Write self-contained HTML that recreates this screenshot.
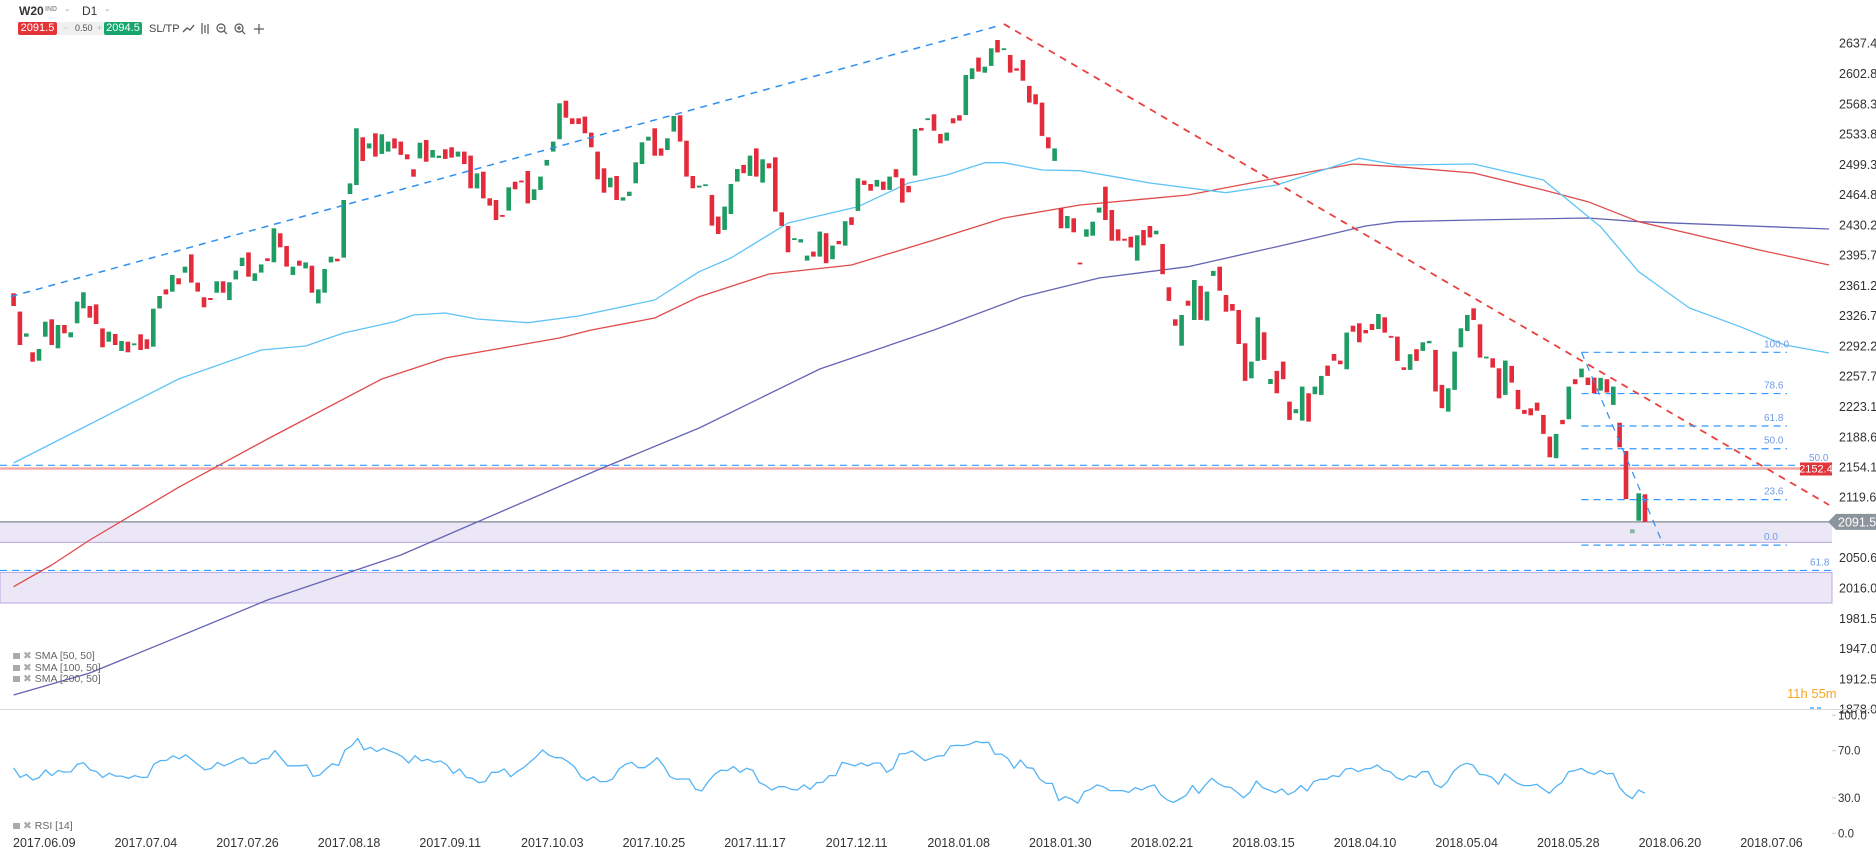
<!DOCTYPE html>
<html><head><meta charset="utf-8"><style>
html,body{margin:0;padding:0;background:#fff;}
body{width:1876px;height:853px;overflow:hidden;font-family:"Liberation Sans",sans-serif;position:relative;}
svg text{font-family:"Liberation Sans",sans-serif;}
</style></head><body>
<svg id="chart" width="1876" height="853" xmlns="http://www.w3.org/2000/svg">
<g id="bg"></g>
<g id="marks"></g>
<g id="overlay"></g>
</svg>
<script>
// ---- data ----
const opens = [2352.2,2331.3,2302.7,2284.9,2275.4,2302.7,2322.5,2289.4,2316.0,2302.0,2317.9,2335.0,2337.7,2339.6,2312.2,2297.0,2305.8,2286.4,2297.0,2293.2,2305.4,2299.7,2291.3,2335.0,2356.7,2354.1,2369.3,2375.8,2396.6,2364.4,2347.6,2346.8,2352.9,2365.9,2344.5,2368.1,2383.3,2398.9,2366.3,2375.8,2392.1,2387.5,2420.6,2406.1,2373.1,2389.4,2380.7,2383.7,2340.7,2352.9,2387.5,2391.7,2392.8,2465.5,2475.7,2530.1,2517.5,2534.7,2511.1,2513.8,2528.9,2525.2,2510.7,2493.6,2506.1,2527.0,2506.9,2506.5,2516.4,2518.7,2508.1,2513.8,2509.2,2471.9,2490.9,2460.5,2458.6,2441.5,2446.5,2479.5,2480.7,2491.7,2458.6,
2470.1,2497.8,2513.8,2527.9,2571.9,2551.8,2551.8,2553.7,2535.5,2513.8,2494.8,2473.1,2486.0,2457.9,2463.2,2477.6,2499.7,2526.3,2540.4,2517.5,2515.6,2536.6,2555.2,2526.3,2486.0,2472.7,2475.0,2464.4,2439.7,2424.5,2442.7,2479.6,2498.6,2486.0,2517.5,2478.4,2500.5,2507.3,2444.6,2429.1,2413.9,2410.1,2389.5,2399.8,2394.1,2420.7,2391.1,2411.9,2406.6,2438.9,2446.2,2480.7,2476.9,2473.9,2479.6,2470.1,2493.7,2483.4,2474.7,2486.4,2540.8,2549.9,2556.4,2533.9,2526.3,2551.8,2555.2,2555.6,2596.6,2621.0,2603.9,2611.5,2641.1,2630.8,2624.0,2608.8,2618.3,2588.7,2579.2,2569.7,2530.1,2503.2,2449.2,2426.4,2437.8,
2387.2,2416.8,2417.9,2444.2,2473.8,2447.2,2425.2,2414.5,2416.8,2389.4,2424.4,2429.0,2419.5,2408.4,2359.0,2322.6,2292.5,2343.8,2321.8,2360.6,2321.0,2372.0,2382.6,2350.3,2340.0,2333.2,2295.2,2255.3,2275.1,2307.7,2248.8,2263.7,2274.3,2228.7,2215.4,2207.0,2238.2,2237.1,2236.3,2269.7,2283.0,2275.4,2265.6,2315.3,2318.0,2310.4,2317.2,2311.5,2324.8,2303.6,2302.8,2267.8,2264.8,2288.4,2286.5,2295.2,2287.6,2247.7,2217.3,2242.0,2290.6,2309.3,2335.1,2316.9,2278.1,2278.1,2266.7,2236.3,2269.4,2242.0,2219.2,2221.1,2227.6,2213.5,2188.8,2164.1,2207.8,2208.6,2254.2,2256.4,2256.1,2256.1,2241.2,2254.2,2224.9,2204.6,2172.3,2083.0,2092.9,2123.0];
const closes = [2337.7,2293.2,2306.5,2274.2,2288.7,2319.8,2293.2,2316.0,2306.5,2307.7,2342.7,2353.3,2324.4,2317.2,2290.6,2308.4,2293.2,2297.8,2284.9,2295.1,2287.5,2288.7,2334.6,2349.1,2351.0,2373.1,2362.5,2382.6,2364.4,2354.1,2336.2,2344.5,2365.9,2352.9,2364.8,2378.1,2392.8,2371.2,2375.0,2385.2,2389.0,2426.3,2404.6,2382.6,2382.6,2383.7,2387.5,2352.9,2356.7,2379.9,2394.0,2388.7,2458.6,2477.6,2540.4,2503.1,2523.2,2508.1,2533.5,2525.2,2517.5,2510.0,2505.0,2485.2,2524.0,2502.3,2515.6,2509.2,2505.4,2506.9,2513.8,2499.7,2471.9,2489.0,2460.5,2452.2,2435.8,2439.6,2473.1,2470.8,2479.5,2454.8,2470.8,
2485.3,2504.3,2525.2,2568.9,2552.5,2545.3,2545.3,2534.7,2518.7,2482.2,2467.0,2484.1,2458.6,2461.7,2468.1,2501.6,2524.4,2530.8,2509.2,2509.2,2529.0,2554.4,2525.2,2485.3,2472.0,2475.0,2476.5,2429.4,2419.9,2451.1,2476.9,2494.0,2489.1,2509.2,2485.3,2505.0,2494.8,2445.4,2429.1,2399.0,2415.0,2413.9,2395.2,2394.1,2422.6,2386.5,2406.6,2408.2,2434.4,2430.2,2483.4,2475.8,2469.3,2481.5,2470.1,2485.3,2484.5,2455.7,2467.4,2539.6,2537.7,2551.8,2537.7,2523.3,2535.5,2546.1,2549.1,2601.2,2608.8,2605.0,2610.7,2631.6,2627.0,2631.6,2603.9,2606.1,2594.7,2569.7,2567.8,2531.7,2517.5,2517.5,2426.4,2440.4,2421.8,
2385.6,2425.2,2433.9,2449.9,2435.8,2412.2,2412.2,2412.2,2404.6,2418.3,2406.9,2416.0,2423.6,2373.9,2343.5,2315.3,2327.5,2338.1,2367.4,2321.8,2354.1,2377.7,2355.2,2331.3,2332.4,2294.4,2252.3,2274.3,2324.8,2276.2,2254.5,2238.2,2254.2,2207.8,2220.0,2245.8,2205.9,2245.8,2258.0,2258.0,2275.4,2271.3,2307.4,2308.5,2296.3,2306.6,2310.4,2328.6,2307.4,2302.0,2275.1,2264.8,2282.7,2275.1,2296.3,2297.9,2240.1,2221.1,2243.9,2285.7,2312.3,2327.5,2321.8,2278.9,2280.0,2267.5,2232.5,2275.4,2250.4,2220.0,2214.6,2213.1,2218.4,2191.8,2165.2,2191.8,2202.9,2245.8,2248.5,2266.3,2247.7,2238.2,2255.7,2239.0,2245.8,2176.6,2117.3,2078.5,2124.1,2091.5];
const rsiValues = [55.4,47.4,49.9,45.2,47.2,53.7,48.9,53.2,51.9,52,58.6,59.8,53.7,52.4,47.3,50.9,48.5,48.5,46.5,48.9,47.4,47.4,58.6,61.5,61.8,65.7,63.1,66.5,62.3,58,53.7,54.9,60,57.2,59.3,62.3,64.2,59.3,59.3,62.8,63.3,70.1,63.6,57.2,57.2,57.2,58,48.2,49.3,54.4,58.9,57.5,70.7,74,80.3,70.7,72.9,69.3,72.1,
69.8,67.8,64.9,59.6,65.8,61.3,62.7,60.2,61.3,57.9,50.8,54.5,47.4,46.6,42.9,43.8,51.7,51.7,54.5,48,52.2,55.6,60.2,64.9,70.6,66.3,64.1,64.1,60.7,56.5,48,44.6,48,43.8,43.8,46,54.5,58.5,60.2,55.6,55.6,59.3,64.1,57.3,48,45.8,46,46,37.3,35.9,43.8,50,53.6,53.1,56.5,51.7,55.1,53.4,43.2,40.4,36.7,39.5,39.5,37.3,36.7,41,37.3,42.9,43.2,48.9,48.9,60.2,58.8,57.1,59.6,57.1,59.6,59.6,51.7,54.8,67.3,67.5,69.8,65.8,61.6,63.6,65.5,65.8,74,74.6,74.3,75.4,77.9,76.8,77.1,66.9,67.2,63.6,55.1,
62.1,55.6,55.1,46,42.3,42.3,27.7,31,29.1,25.4,35.3,37.3,41,39.5,36.2,36.2,36.2,34.7,38.7,36.7,39.5,41,32.7,28.4,26.1,29.1,32.2,40.4,33.9,41,46.6,42.3,39.5,38.9,34.7,30.2,34.7,44.3,38.7,36.7,34.4,37.6,32.7,35.3,40.4,35.9,43.8,45.8,45.8,48.9,48,54.5,55.1,52.2,54.5,55.1,57.9,53.6,52.2,47.1,45.2,48.9,47.4,52.2,52.2,41.5,38.7,43.8,52.8,57.3,59.3,57.9,50,49.4,47.4,41.5,50.3,46,42.3,40.4,40.4,41.5,37.6,33.9,39.5,43.2,52.2,53.1,55.1,51.7,50,53.1,50.3,50.8,38.9,32.7,29.4,36.7,33.9];
const sma50Idx = [0,26,39,46,52,60,63,68,73,81,89,101,108,113,122,133,141,147,153,156,162,168,179,191,199,212,218,230,241,250,256,264,272,279,286];
const sma50Val = [2158.7,2254.5,2287.5,2292.1,2306.9,2319.8,2327.5,2329.7,2322.9,2318.7,2326.3,2344.6,2376.8,2392.5,2432.4,2451.0,2478.0,2487.1,2501.2,2501.2,2492.8,2492.0,2478.0,2466.9,2475.7,2506.2,2498.5,2499.7,2481.4,2428.2,2376.8,2335.4,2314.1,2293.2,2284.1];
const sma100Idx = [0,6,12,26,40,58,68,77,86,91,101,108,119,132,145,156,168,185,199,211,218,230,241,248,256,265,275,286];
const sma100Val = [2017.6,2042.3,2070.8,2131.0,2186.0,2254.5,2278.4,2289.8,2301.2,2310.3,2324.0,2348.3,2374.2,2384.5,2413.0,2438.1,2452.9,2464.3,2483.7,2499.7,2496.6,2489.4,2470.0,2456.7,2433.9,2418.7,2401.6,2384.5];
const sma200Idx = [0,12,26,40,61,92,108,127,145,159,171,185,199,213,218,230,248,256,286];
const sma200Val = [1894.1,1919.2,1960.6,2002.4,2053.7,2150.7,2198.6,2265.9,2310.3,2348.3,2369.6,2382.5,2405.3,2429.0,2433.9,2435.8,2438.1,2433.9,2425.5];
const priceTicks = [2637.4,2602.8,2568.3,2533.8,2499.3,2464.8,2430.2,2395.7,2361.2,2326.7,2292.2,2257.7,2223.1,2188.6,2154.1,2119.6,2050.6,2016.0,1981.5,1947.0,1912.5,1878.0];
const rsiTicks = [100,70,30,0];
const dateLabels = ["2017.06.09","2017.07.04","2017.07.26","2017.08.18","2017.09.11","2017.10.03","2017.10.25","2017.11.17","2017.12.11","2018.01.08","2018.01.30","2018.02.21","2018.03.15","2018.04.10","2018.05.04","2018.05.28","2018.06.20","2018.07.06"];
const fibLevels = [100,78.6,61.8,50,23.6,0];
const fibHigh = 2284.9, fibLow = 2065.0;
const lastPrice = 2091.5, alertPrice = 2152.4;

// ---- scales ----
const NS="http://www.w3.org/2000/svg";
const X0=13.6, DX=(1645-13.6)/(closes.length-1);
function xAt(i){return X0+i*DX;}
function yP(p){return 467-(p-2154.1)*0.8768;}
function yR(v){return 833.3-v*1.18;}
function mk(tag,attrs,parent){const e=document.createElementNS(NS,tag);for(const k in attrs)e.setAttribute(k,attrs[k]);(parent||document.getElementById('marks')).appendChild(e);return e;}
const bg=document.getElementById('bg'), ov=document.getElementById('overlay');

let e;
e=mk('rect',{x:0,y:yP(lastPrice),width:1832,height:yP(2068.1)-yP(lastPrice),fill:'#ebe7f6'},bg);


e=mk('line',{x1:0,x2:1832,y1:yP(2068.1),y2:yP(2068.1),stroke:'#b8a8e0','stroke-width':1},bg);


e=mk('rect',{x:0,y:yP(2033.9),width:1832,height:yP(1999)-yP(2033.9),fill:'#ebe7f6',stroke:'#b8a8e0','stroke-width':1},bg);


e=mk('line',{x1:0,x2:1832,y1:yP(2036.1),y2:yP(2036.1),stroke:'#3399ff','stroke-width':1.2,'stroke-dasharray':'7,5'},bg);


e=mk('line',{x1:0,x2:1832,y1:yP(alertPrice),y2:yP(alertPrice),stroke:'#f5aaaa','stroke-width':2.5},bg);


e=mk('line',{x1:0,x2:1832,y1:yP(2154.3)-1.5,y2:yP(2154.3)-1.5,stroke:'#3399ff','stroke-width':1.2,'stroke-dasharray':'7,5'},bg);


e=mk('line',{x1:0,x2:1832,y1:yP(lastPrice),y2:yP(lastPrice),stroke:'#7f8790','stroke-width':1.3},bg);



function smaPath(idx,val,color,name){
  let d='';for(let i=0;i<idx.length;i++){d+=(i?'L':'M')+xAt(idx[i]).toFixed(1)+','+yP(val[i]).toFixed(1);}
  const p=mk('path',{d:d,fill:'none',stroke:color,'stroke-width':1.3,'stroke-linejoin':'round'});
  
  
}
smaPath(sma200Idx,sma200Val,'#6464b4','sma-200-line');
smaPath(sma100Idx,sma100Val,'#e04a4a','sma-100-line');
smaPath(sma50Idx,sma50Val,'#5ec4f5','sma-50-line');

for(let i=0;i<closes.length;i++){
  const o=opens[i],c=closes[i],up=c>=o;
  const col=(i===closes.length-3)?'#7fb8a0':(up?'#1f9c64':'#e42b3c');
  const yt=yP(Math.max(o,c)),yb=yP(Math.min(o,c));
  const r=mk('rect',{x:(xAt(i)-2.3).toFixed(1),y:yt.toFixed(1),width:4.6,height:Math.max(1.8,yb-yt).toFixed(1),fill:col});
  
  
}

function tline(i1,p1,i2,p2,color,name,w){
  const l=mk('line',{x1:xAt(i1),y1:yP(p1),x2:xAt(i2),y2:yP(p2),stroke:color,'stroke-width':w||1.5,'stroke-dasharray':'7,6'},ov);
  
  
}
tline(-0.45,2348.5,155,2657,'#2e8ff0','uptrend-line');
tline(156,2659.3,286,2110.8,'#e8413f','downtrend-line',1.8);
tline(247,fibHigh,259.9,fibLow,'#2e8ff0','fib-anchor-line',1.2);

for(const f of fibLevels){
  const p=fibLow+(fibHigh-fibLow)*f/100;
  const l=mk('line',{x1:xAt(247),x2:1787,y1:yP(p),y2:yP(p),stroke:'#3399ff','stroke-width':1.2,'stroke-dasharray':'7,5'},ov);
  
  
  const t=mk('text',{x:1764,y:yP(p)-5,'font-size':10,fill:'#6f9be8'},ov);t.textContent=f.toFixed(1);
  
  
}
e=mk('text',{x:1809,y:yP(2154.3)-6,'font-size':10,fill:'#6f9be8'},ov);e.textContent='50.0';


e=mk('text',{x:1810,y:yP(2036.1)-5,'font-size':10,fill:'#6f9be8'},ov);e.textContent='61.8';



for(const p of priceTicks){
  const t=mk('text',{x:1839,y:yP(p)+4.5,'font-size':12.5,fill:'#333'},ov);t.textContent=p.toFixed(1);
  
  
}
e=mk('rect',{x:1800,y:yP(alertPrice)-6,width:32,height:13,fill:'#e3343a'},ov);


e=mk('text',{x:1816,y:yP(alertPrice)+4,'font-size':11,fill:'#fff','text-anchor':'middle'},ov);e.textContent=alertPrice.toFixed(1);


const ly=yP(lastPrice);
e=mk('path',{d:`M1828,${ly} L1836,${ly-8} L1876,${ly-8} L1876,${ly+8} L1836,${ly+8} Z`,fill:'#8c949c'},ov);


e=mk('text',{x:1838,y:ly+4.5,'font-size':12.5,fill:'#fff'},ov);e.textContent=lastPrice.toFixed(1);



e=mk('text',{x:1787,y:698,'font-size':13,fill:'#f5a623'},ov);e.textContent='11h 55m';


e=mk('line',{x1:1810,x2:1823,y1:708,y2:708,stroke:'#3399ff','stroke-width':1.2,'stroke-dasharray':'4,3'},ov);



e=mk('line',{x1:0,x2:1876,y1:709.5,y2:709.5,stroke:'#d8d8d8','stroke-width':1},ov);



const RDX=(1645-X0)/(rsiValues.length-1);
let d='';rsiValues.forEach((v,i)=>{d+=(i?'L':'M')+(X0+i*RDX).toFixed(1)+','+yR(v).toFixed(1);});
e=mk('path',{d:d,fill:'none',stroke:'#55b4f5','stroke-width':1.3,'stroke-linejoin':'round'});


for(const v of rsiTicks){
  const t=mk('text',{x:1838,y:yR(v)+4,'font-size':11.5,fill:'#333'},ov);t.textContent=v.toFixed(1);
  
  
  const tk=mk('line',{x1:1832,x2:1836,y1:yR(v),y2:yR(v),stroke:'#ccc'},ov);
  
  
}

dateLabels.forEach((s,k)=>{
  const t=mk('text',{x:13+101.6*k,y:847,'font-size':12.5,fill:'#333'},ov);t.textContent=s;
  
  
});
</script>

<div style="position:absolute;left:0;top:0;width:320px;height:40px;font-size:12px;color:#333;">
  <div style="position:absolute;left:19px;top:4px;font-weight:bold;font-size:12px;">W20</div>
  <div style="position:absolute;left:45px;top:6px;font-size:7px;color:#999;font-weight:bold;">IND</div>
  <div style="position:absolute;left:64px;top:4px;font-size:8px;color:#aaa;">&#8964;</div>
  <div style="position:absolute;left:82px;top:4px;font-size:12px;">D1</div>
  <div style="position:absolute;left:104px;top:4px;font-size:8px;color:#aaa;">&#8964;</div>
  <div style="position:absolute;left:18px;top:22px;width:39px;height:13px;background:#e3343a;color:#fff;font-size:11px;line-height:13px;text-align:center;border-radius:2px;">2091.5</div>
  <div style="position:absolute;left:57px;top:22px;width:47px;height:13px;background:#f0f0f0;color:#555;font-size:9px;line-height:13px;"><span style="position:absolute;left:6px;color:#bbb;">−</span><span style="position:absolute;left:18px;">0.50</span><span style="position:absolute;left:40px;color:#bbb;">+</span></div>
  <div style="position:absolute;left:104px;top:22px;width:38px;height:13px;background:#16a56c;color:#fff;font-size:11px;line-height:13px;text-align:center;border-radius:2px;">2094.5</div>
  <div style="position:absolute;left:149px;top:23px;font-size:11px;color:#444;">SL/TP</div>
  <svg style="position:absolute;left:180px;top:21px;" width="110" height="16">
    <polyline points="3,11 7,7 10,9 14,4" fill="none" stroke="#555" stroke-width="1.3"/>
    <g stroke="#555" stroke-width="1.2"><line x1="22" y1="2" x2="22" y2="13"/><line x1="25" y1="4" x2="25" y2="12"/><line x1="28" y1="3" x2="28" y2="13"/></g>
    <g fill="none" stroke="#555" stroke-width="1.2"><circle cx="41" cy="7" r="4"/><line x1="44" y1="10" x2="47" y2="13"/><line x1="39" y1="7" x2="43" y2="7"/></g>
    <g fill="none" stroke="#555" stroke-width="1.2"><circle cx="59" cy="7" r="4"/><line x1="62" y1="10" x2="65" y2="13"/><line x1="57" y1="7" x2="61" y2="7"/><line x1="59" y1="5" x2="59" y2="9"/></g>
    <g stroke="#555" stroke-width="1.2"><line x1="74" y1="8" x2="84" y2="8"/><line x1="79" y1="3" x2="79" y2="13"/></g>
  </svg>
</div>

<div style="position:absolute;left:13px;top:651px;font-size:10.5px;color:#666;line-height:11.7px;">
  <div><span style="display:inline-block;width:7px;height:6px;background:#aaa;margin-right:3px;"></span><span style="color:#aaa;">✖</span> SMA [50, 50]</div>
  <div><span style="display:inline-block;width:7px;height:6px;background:#aaa;margin-right:3px;"></span><span style="color:#aaa;">✖</span> SMA [100, 50]</div>
  <div><span style="display:inline-block;width:7px;height:6px;background:#aaa;margin-right:3px;"></span><span style="color:#aaa;">✖</span> SMA [200, 50]</div>
</div>
<div style="position:absolute;left:13px;top:820px;font-size:10.5px;color:#666;"><span style="display:inline-block;width:7px;height:6px;background:#aaa;margin-right:3px;"></span><span style="color:#aaa;">✖</span> RSI [14]</div>
</body></html>
